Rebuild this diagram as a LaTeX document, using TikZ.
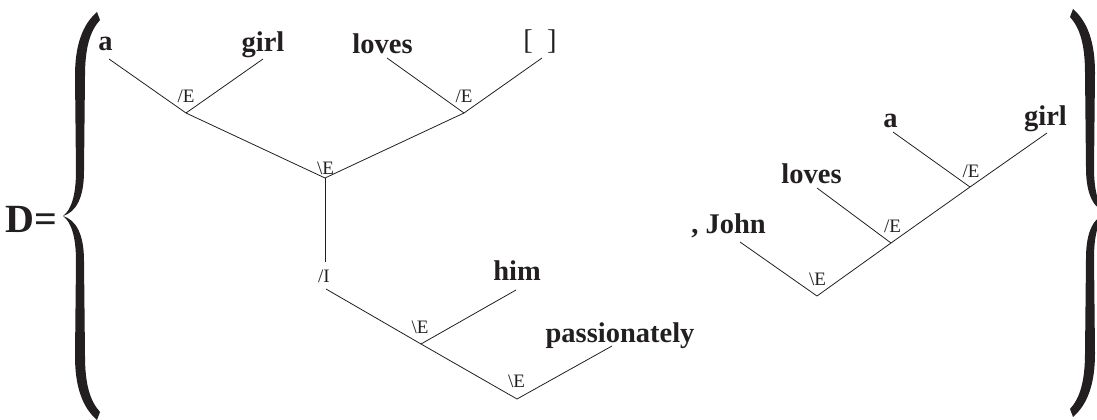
\documentclass[tikz,border=0pt]{standalone}
\usepackage{fontspec}
\setmainfont{Liberation Serif}
\definecolor{ink}{RGB}{35,31,32}
% one half of a curly brace, cusp at the origin
\newcommand\halfbrace{%
 \fill[ink] (34,-204) .. controls (19,-191) and (12,-170) .. (12,-140)
  -- (13,-45) .. controls (13,-20) and (8,-6) .. (0,0)
  .. controls (13,-4) and (21,-18) .. (21,-45)
  -- (22,-140) .. controls (22,-168) and (27,-185) .. (37,-196) -- cycle;}

\begin{document}
\begin{tikzpicture}[x=1pt,y=-1pt,
 word/.style={font=\bfseries\fontsize{28.5}{30}\selectfont,inner sep=0pt,anchor=base,text=ink},
 ruletag/.style={font=\fontsize{19}{20}\selectfont,inner sep=0pt,anchor=base,text=ink},
 branch/.style={draw=ink,line width=0.8pt}]
\useasboundingbox (0,0) rectangle (1097,420);
\node[font=\bfseries\fontsize{40}{42}\selectfont,inner sep=0pt,anchor=base west,text=ink] (dd) at (5,232) {D=};
\begin{scope}[shift={(63,216)}]
 \halfbrace
 \begin{scope}[yscale=-1]\halfbrace\end{scope}
\end{scope}
\begin{scope}[shift={(1107,213)},xscale=-1]
 \halfbrace
 \begin{scope}[yscale=-1]\halfbrace\end{scope}
\end{scope}

% left derivation
\node[word] (wa) at (105.5,51) {a};
\node[word] (wg) at (263,52) {girl};
\node[word] (wl) at (382.5,53) {loves};
\node[word,font=\fontsize{28.5}{30}\selectfont] (wb) at (540,49) {[\hspace{0.5em}]};
\node[word] (wh) at (517,280) {him};
\node[word] (wp) at (620,342) {passionately};
\coordinate (ta) at (109,59);
\coordinate (tg) at (263,59);
\coordinate (tl) at (387,58);
\coordinate (tb) at (542,58);
\coordinate (th) at (516,290);
\coordinate (tp) at (612,346);
\coordinate (j1) at (186,113);
\coordinate (j2) at (464,113);
\coordinate (j3) at (325,178);
\coordinate (i3) at (325,262);
\coordinate (i4) at (326,289);
\coordinate (j4) at (421,344);
\coordinate (j5) at (517,399);
\draw[branch] (ta) -- (j1) -- (tg);
\draw[branch] (tl) -- (j2) -- (tb);
\draw[branch] (j1) -- (j3) -- (j2);
\draw[branch] (j3) -- (i3);
\draw[branch] (i4) -- (j4) -- (j5);
\draw[branch] (th) -- (j4);
\draw[branch] (tp) -- (j5);
\node[ruletag] (r1) at (186,102) {/E};
\node[ruletag] (r2) at (464,102) {/E};
\node[ruletag] (r3) at (325.5,174) {\textbackslash E};
\node[ruletag] (r4) at (324,282) {/I};
\node[ruletag] (r5) at (420,333) {\textbackslash E};
\node[ruletag] (r6) at (516.5,387) {\textbackslash E};

% right derivation
\node[word] (wj) at (728.5,233) {, John};
\node[word] (wl2) at (811.5,183) {loves};
\node[word] (wa2) at (890.5,127) {a};
\node[word] (wg2) at (1045.5,125) {girl};
\coordinate (tj) at (740,242);
\coordinate (tl2) at (817,188);
\coordinate (ta2) at (893,132);
\coordinate (tg2) at (1047,133);
\coordinate (j6) at (817,296);
\coordinate (j7) at (891,243);
\coordinate (j8) at (970,187);
\draw[branch] (tj) -- (j6) -- (j7) -- (j8) -- (tg2);
\draw[branch] (tl2) -- (j7);
\draw[branch] (ta2) -- (j8);
\node[ruletag] (r7) at (817.5,285) {\textbackslash E};
\node[ruletag] (r8) at (892.5,232) {/E};
\node[ruletag] (r9) at (971,177) {/E};
\end{tikzpicture}
\end{document}
